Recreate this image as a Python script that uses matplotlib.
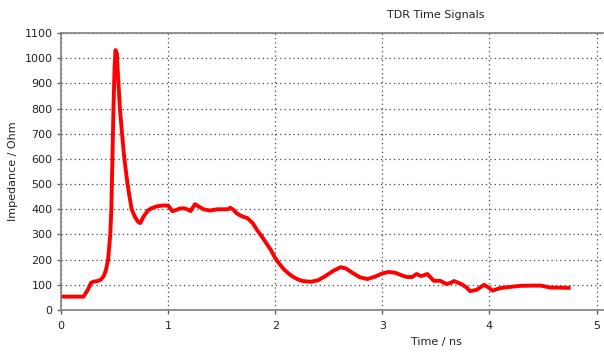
import matplotlib.pyplot as plt

# TDR impedance trace
time_ns = [0.00, 0.10, 0.21, 0.25, 0.28, 0.30, 0.34, 0.37, 0.40, 0.42, 0.44, 0.45, 0.46,
           0.47, 0.48, 0.49, 0.50, 0.505, 0.51, 0.515, 0.52, 0.53, 0.55, 0.57, 0.59, 0.62,
           0.64, 0.66, 0.69, 0.72, 0.74, 0.77, 0.81, 0.85, 0.90, 0.95, 1.00, 1.04, 1.08,
           1.11, 1.15, 1.19, 1.21, 1.25, 1.29, 1.33, 1.39, 1.46, 1.52, 1.56, 1.58, 1.61,
           1.64, 1.69, 1.74, 1.79, 1.83, 1.87, 1.91, 1.96, 2.00, 2.04, 2.08, 2.13, 2.17,
           2.22, 2.26, 2.33, 2.40, 2.47, 2.54, 2.61, 2.66, 2.72, 2.79, 2.86, 2.93, 3.00,
           3.06, 3.12, 3.18, 3.23, 3.28, 3.32, 3.36, 3.39, 3.42, 3.45, 3.48, 3.54, 3.60,
           3.64, 3.67, 3.71, 3.75, 3.79, 3.82, 3.88, 3.95, 3.99, 4.03, 4.10, 4.20, 4.29,
           4.40, 4.48, 4.57, 4.65, 4.74]
impedance = [53, 53, 53, 80, 108, 112, 115, 120, 135, 160, 200, 250, 300,
             400, 600, 800, 960, 1000, 1032, 1000, 1020, 950, 800, 700, 607, 504,
             450, 400, 370, 350, 345, 370, 395, 405, 412, 415, 415, 392, 398,
             403, 404, 398, 393, 420, 410, 400, 395, 400, 400, 400, 406, 398,
             384, 372, 365, 345, 318, 295, 270, 238, 206, 183, 162, 143, 131,
             120, 115, 112, 118, 135, 155, 170, 165, 148, 130, 123, 132, 145,
             151, 148, 138, 131, 131, 143, 135, 138, 143, 130, 116, 116, 103,
             108, 115, 108, 100, 88, 75, 80, 100, 90, 77, 87, 92, 96,
             97, 97, 89, 89, 88]

x_ticks = [0, 1, 2, 3, 4, 5]
y_ticks = [0, 100, 200, 300, 400, 500, 600, 700, 800, 900, 1000, 1100]

fig = plt.figure(figsize=(6.04, 3.53), dpi=100)
ax = fig.add_axes([61 / 604, 43 / 353, 543 / 604, 277 / 353])

ax.plot(time_ns, impedance, color='#ff0000', lw=2.8, solid_joinstyle='round')

ax.set_xlim(0, 5.07)
ax.set_ylim(0, 1100)
ax.set_xticks(x_ticks)
ax.set_yticks(y_ticks)
ax.grid(True, color='#444444', linestyle=(0, (1, 2.5)), lw=0.9)

for side in ['left', 'bottom', 'top']:
    ax.spines[side].set_color('#808080')
    ax.spines[side].set_linewidth(1.2)
ax.spines['right'].set_visible(False)

ax.tick_params(axis='both', direction='out', length=3, width=1, color='#606060',
               labelsize=8, labelcolor='#222222', pad=3)
ax.tick_params(axis='x', pad=5)

ax.set_ylabel('Impedance / Ohm', fontsize=8, color='#222222', labelpad=5)
fig.text(436 / 604, 1 - 342 / 353, 'Time / ns', fontsize=8, color='#222222',
         ha='center', va='center')
fig.text(436 / 604, 1 - 15 / 353, 'TDR Time Signals', fontsize=8, color='#222222',
         ha='center', va='center')

fig.savefig('out.png', dpi=100)
